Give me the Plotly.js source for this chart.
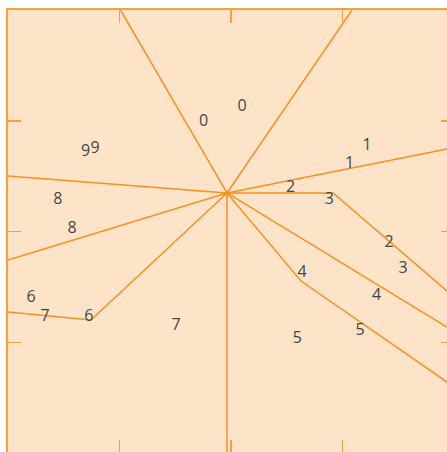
<!DOCTYPE html>
<html>
<head>
<meta charset="utf-8">
<script src="https://cdn.plot.ly/plotly-3.0.1.min.js"></script>
<style>html,body{margin:0;padding:0;overflow:hidden;background:#fff;}</style>
</head>
<body>
<div id="chart"></div>
<script>
// Boundary lines (each a polyline from the hub outward)
const lineX = [
  [1.964, 1.009],
  [1.964, 3.085],
  [1.964, 4.0],
  [1.964, 2.915, 4.0],
  [1.964, 4.0],
  [1.964, 2.628, 4.0],
  [1.964, 1.964],
  [1.964, 0.744, 0.0],
  [1.964, 0.0],
  [1.964, 0.0]
];
const lineY = [
  [2.348, 4.0],
  [2.348, 4.0],
  [2.348, 2.758],
  [2.348, 2.348, 1.409],
  [2.348, 1.099],
  [2.348, 1.553, 0.597],
  [2.348, 0.0],
  [2.348, 1.201, 1.273],
  [2.348, 1.743],
  [2.348, 2.501]
];
// Digit labels
const labelText = ['0','0','1','1','2','2','3','3','4','4','5','5','6','6','7','7','8','8','9','9'];
const labelX = [1.755,2.099,3.220,3.063,2.534,3.417,2.883,3.543,2.637,3.305,2.596,3.157,0.206,0.726,0.332,1.507,0.448,0.574,0.695,0.780];
const labelY = [2.988,3.128,2.776,2.614,2.392,1.900,2.284,1.661,1.625,1.422,1.029,1.106,1.404,1.232,1.228,1.146,2.288,2.022,2.722,2.749];
const tickVals = [0,1,2,3,4];

const traces = lineX.map((xs, i) => ({
  type: 'scatter', mode: 'lines', x: xs, y: lineY[i],
  line: {color: '#f7901e', width: 1.5}, hoverinfo: 'skip', showlegend: false
}));
traces.push({
  type: 'scatter', mode: 'text', x: labelX, y: labelY, text: labelText,
  textposition: 'middle center', cliponaxis: false,
  textfont: {family: 'Open Sans, sans-serif', size: 16, color: '#444'},
  showlegend: false, hoverinfo: 'skip'
});

const axis = {
  range: [0, 4], tickvals: tickVals, showticklabels: false, showgrid: false, zeroline: false,
  ticks: 'inside', ticklen: 13, tickwidth: 1.5, tickcolor: '#f6a040',
  showline: true, linecolor: '#f6a040', linewidth: 2, mirror: 'ticks', fixedrange: true
};

Plotly.newPlot('chart', traces, {
  width: 460, height: 460,
  margin: {l: 8, r: 6, t: 10, b: 7},
  paper_bgcolor: '#ffffff', plot_bgcolor: '#fde4c9',
  xaxis: Object.assign({}, axis),
  yaxis: Object.assign({}, axis),
  showlegend: false
}, {displayModeBar: false, staticPlot: true});
</script>
</body>
</html>
